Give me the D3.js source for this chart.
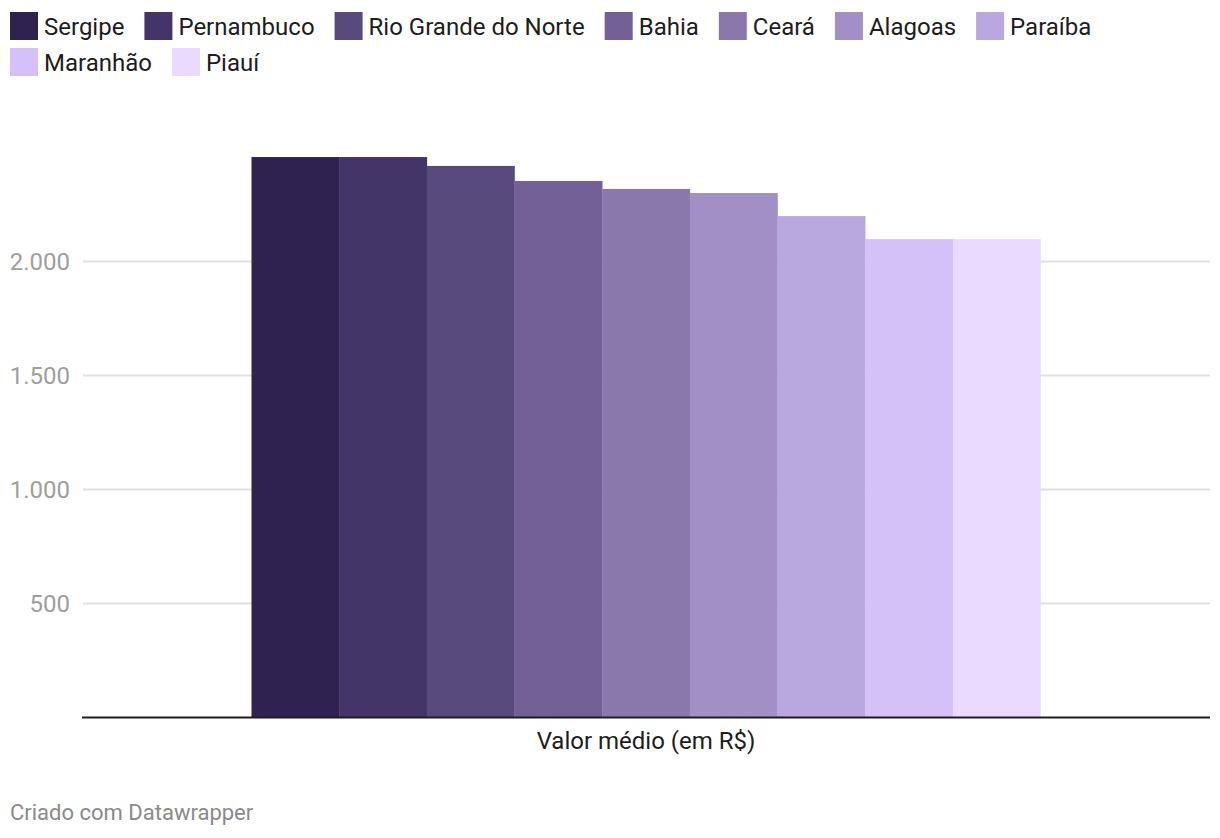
<!DOCTYPE html>
<html><head><meta charset="utf-8">
<script src="https://cdn.jsdelivr.net/npm/d3@7"></script>
<style>
body{margin:0;background:#fff;font-family:Roboto,"Noto Sans",sans-serif;}
svg{display:block;}
</style></head>
<body>
<svg id="chart" width="1220" height="838"></svg>
<script>
const states = ["Sergipe","Pernambuco","Rio Grande do Norte","Bahia","Ceará","Alagoas","Paraíba","Maranhão","Piauí"];
const values = [2456,2456,2417,2351,2316,2298,2197,2096,2096];
const colors = ["#2e2350","#433567","#574a7c","#726096","#8a78ad","#a18fc5","#b9a7e0","#d4c1f8","#ebdaff"];
const groups = ["Valor médio (em R$)"];
const yTicks = [500,1000,1500,2000];

const svg = d3.select("#chart");
const left = 82, right = 1210, baseY = 717;

// Legend
const lg = svg.append("g");
let lx = 10, ly = 12;
states.forEach((s,i)=>{
  const t = lg.append("text").attr("font-size",24).attr("fill","#1d1d1d").text(s);
  const w = t.node().getComputedTextLength();
  if (lx + 34 + w > 1210) { lx = 10; ly += 36; }
  lg.append("rect").attr("x",lx).attr("y",ly).attr("width",28).attr("height",28).attr("fill",colors[i]);
  t.attr("x",lx+34).attr("y",ly+23);
  lx += 34 + w + 20;
});

const y = d3.scaleLinear().domain([0,2500]).range([baseY, baseY-570]);
const x0 = d3.scaleBand().domain(groups).range([left,right]).paddingInner(0).paddingOuter(0.2148);
const x1 = d3.scaleBand().domain(states).range([0,x0.bandwidth()]).padding(0);

// grid
const yAxis = d3.axisLeft(y).tickValues(yTicks).tickSize(-(right-left-1)).tickFormat(d=>d3.format(",")(d).replace(/,/g,"."));
const ga = svg.append("g").attr("transform",`translate(${left+1},0)`).call(yAxis);
ga.select(".domain").remove();
ga.selectAll(".tick line").attr("stroke","#e0e0e0").attr("stroke-width",2);
ga.selectAll(".tick text").attr("x",-13).attr("font-size",24).attr("fill","#9e9e9e").attr("font-family","Roboto").attr("dy","0.34em");

// bars
const g = svg.append("g").selectAll("g").data(groups).join("g").attr("transform",d=>`translate(${x0(d)},0)`);
g.selectAll("rect").data(states.map((s,i)=>({s,v:values[i],c:colors[i]}))).join("rect")
  .attr("x",d=>x1(d.s)).attr("width",x1.bandwidth()+0.3)
  .attr("y",d=>y(d.v)).attr("height",d=>y(0)-y(d.v)).attr("fill",d=>d.c);

// baseline
svg.append("line").attr("x1",left).attr("x2",right).attr("y1",y(0)+0.5).attr("y2",y(0)+0.5).attr("stroke","#1d1d1d").attr("stroke-width",2);

// x label
const xAxis = d3.axisBottom(x0).tickSize(0);
const gx = svg.append("g").attr("transform",`translate(0,${baseY})`).call(xAxis);
gx.select(".domain").remove();
gx.selectAll("text").attr("font-size",24).attr("fill","#1d1d1d").attr("font-family","Roboto").attr("y",15).attr("dy","0.71em");

// footer
svg.append("text").attr("x",10).attr("y",820).attr("font-size",22).attr("fill","#8a8a8a").text("Criado com Datawrapper");
</script>
</body></html>
